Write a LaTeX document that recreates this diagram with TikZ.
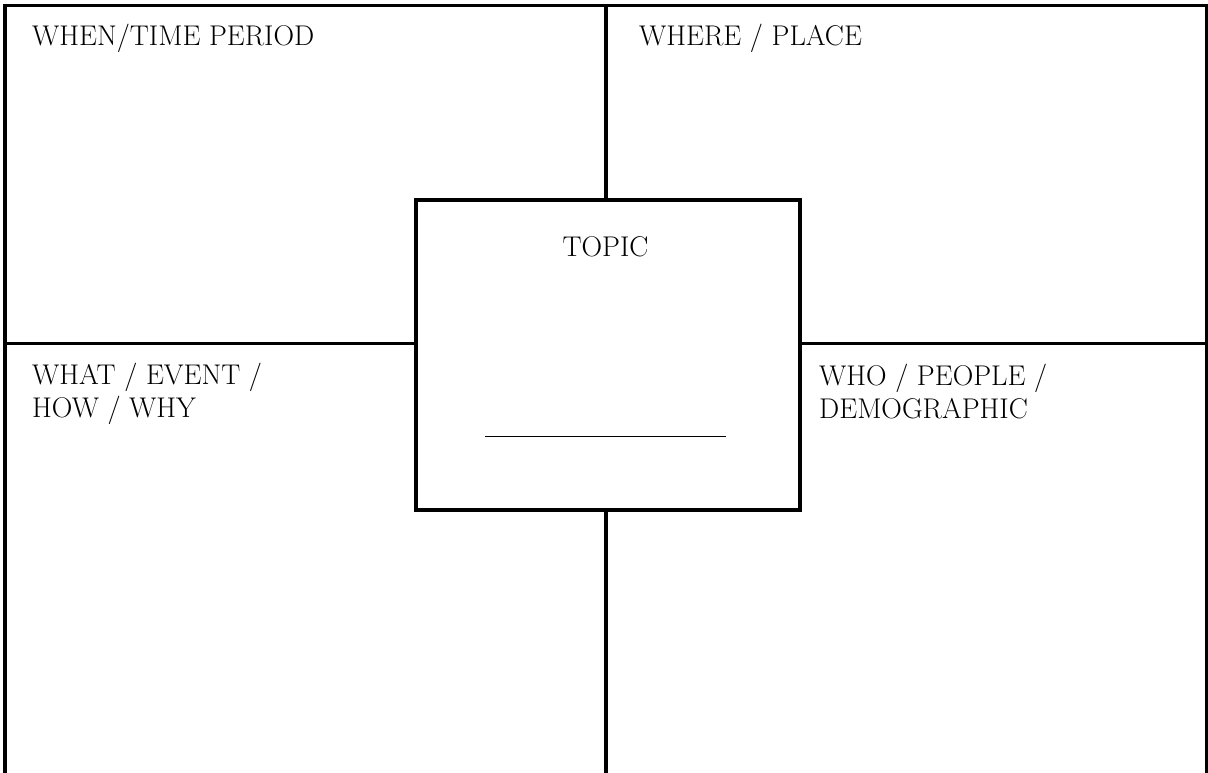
\documentclass[tikz,border=0pt]{standalone}
\usepackage{fontspec}
\setmainfont{Latin Modern Roman}
\begin{document}
\begin{tikzpicture}[x=1pt,y=-1pt,
  frame/.style={line width=3.8pt,black},
  lbl/.style={inner sep=0pt,anchor=base west,font=\fontsize{28.5}{33}\selectfont,align=left},
  topicbox/.style={draw,line width=3.8pt,minimum width=384pt,minimum height=310pt,inner sep=0pt,anchor=north west}]
\useasboundingbox (0,0) rectangle (1208,773);
% outer frame (no bottom edge)
\coordinate (bl) at (5,773);
\coordinate (tl) at (5,5.5);
\coordinate (tr) at (1207,5.5);
\coordinate (br) at (1207,773);
\draw[frame] (bl) -- (tl) -- (tr) -- (br);
% centre box
\node[topicbox] (topic) at (414,198) {};
% dividers
\coordinate (vtop) at (606,5.5);
\coordinate (vbot) at (606,773);
\coordinate (hl) at (5,343.5);
\coordinate (hr) at (1207,343.5);
\draw[frame] (vtop) -- (topic.north -| vtop);
\draw[frame] (topic.south -| vbot) -- (vbot);
\draw[frame] (hl) -- (topic.west |- hl);
\draw[frame] (topic.east |- hr) -- (hr);
% labels
\node[lbl] (when) at (32,46) {WHEN/TIME PERIOD};
\node[lbl] (where) at (639,46) {WHERE / PLACE};
\node[lbl] (what) at (32,417) {WHAT / EVENT /\\HOW / WHY};
\node[lbl] (who) at (819,418) {WHO / PEOPLE /\\DEMOGRAPHIC};
\node[lbl,anchor=base] (topictxt) at (605.5,256) {TOPIC};
% blank line
\coordinate (bla) at (485,436);
\coordinate (blb) at (726,436);
\draw[line width=1pt] (bla) -- (blb);
\end{tikzpicture}
\end{document}
